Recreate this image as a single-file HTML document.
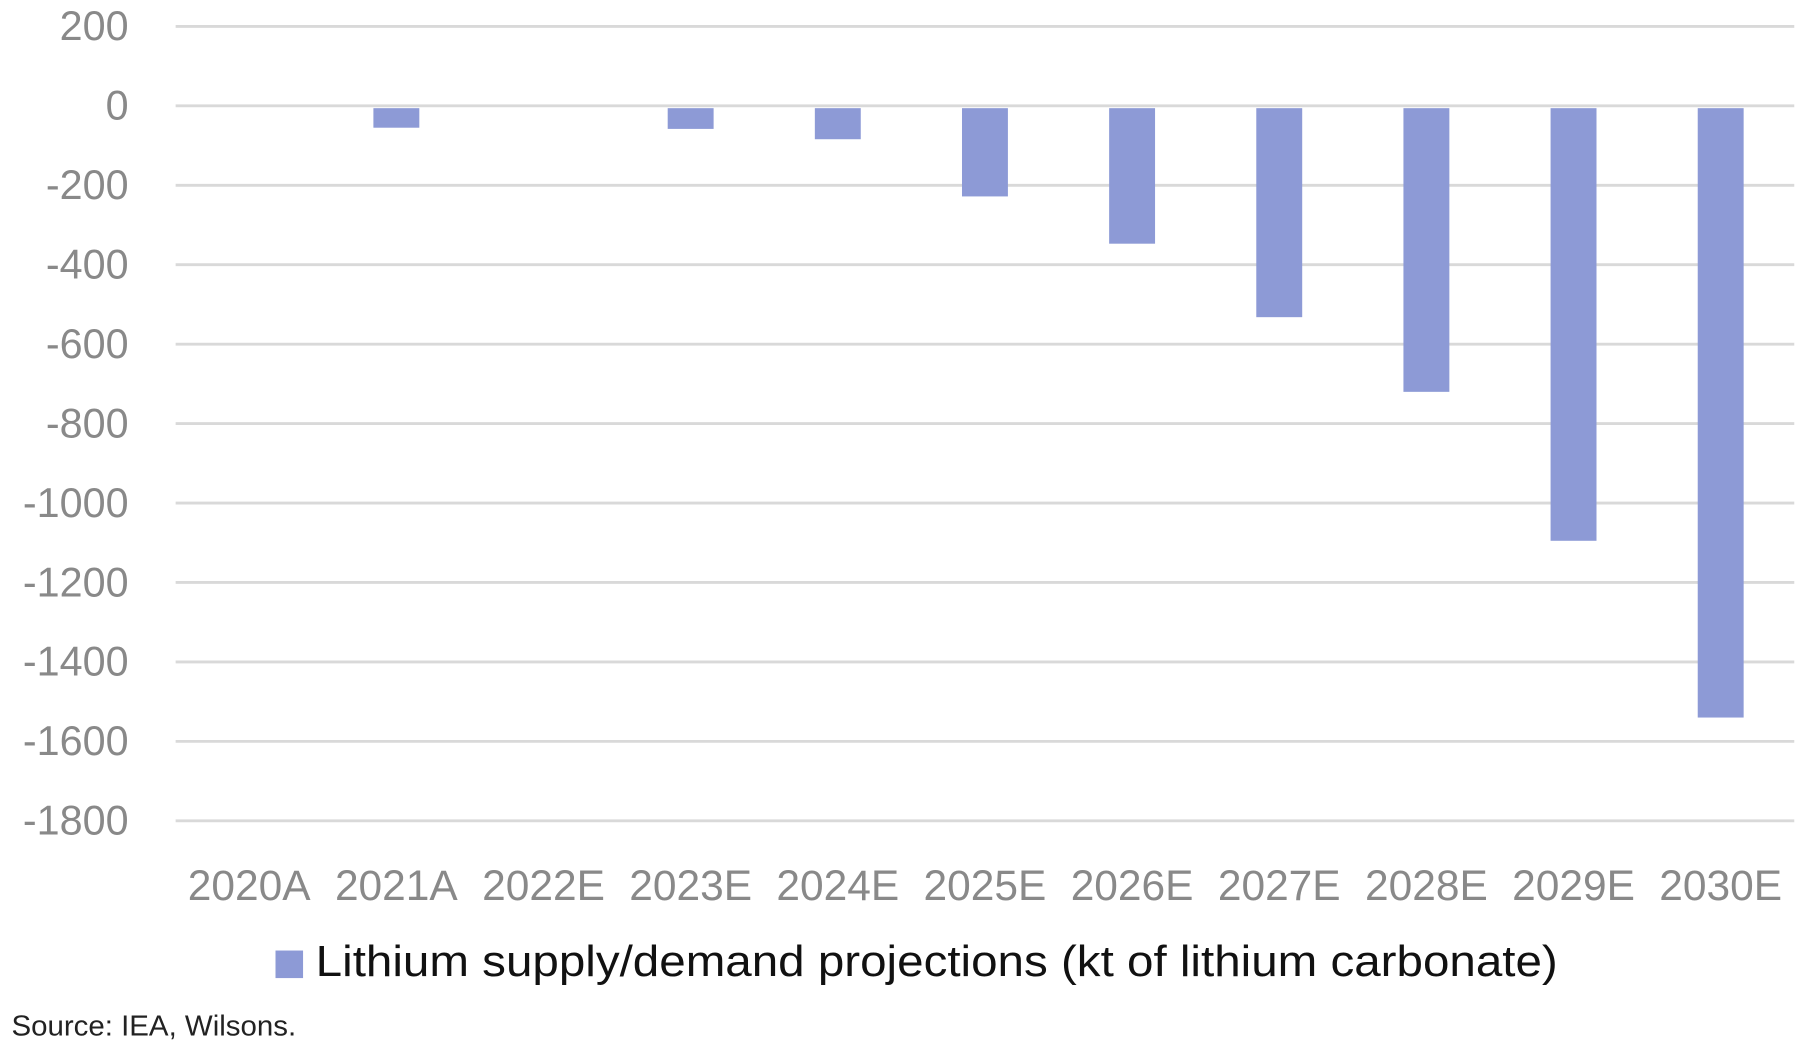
<!DOCTYPE html>
<html><head><meta charset="utf-8"><style>
html,body{margin:0;padding:0;background:#fff;}
svg{display:block;font-family:"Liberation Sans",sans-serif;}
</style></head><body>
<svg id="chart" width="1800" height="1051" viewBox="0 0 1568 915.5" xmlns="http://www.w3.org/2000/svg">
<g id="grid"></g>
<g id="ylabels"></g>
<g id="bars"></g>
<g id="xlabels"></g>
<g>
<rect x="240" y="828" width="24" height="24" fill="#8d9ad6"/>
<text x="275" y="850" font-size="38" fill="#111" textLength="1082" lengthAdjust="spacingAndGlyphs">Lithium supply/demand projections (kt of lithium carbonate)</text>
</g>
<text x="10" y="902" font-size="25" fill="#222" textLength="248" lengthAdjust="spacingAndGlyphs">Source: IEA, Wilsons.</text>
</svg>
<script>
const categories = ["2020A","2021A","2022E","2023E","2024E","2025E","2026E","2027E","2028E","2029E","2030E"];
const values = [0,-55,0,-58,-84,-228,-347,-532,-720,-1095,-1540];
const yTicks = [200,0,-200,-400,-600,-800,-1000,-1200,-1400,-1600,-1800];
const yTickLabels = ["200","0","-200","-400","-600","-800","-1000","-1200","-1400","-1600","-1800"];

const NS="http://www.w3.org/2000/svg";
const plotL=153, plotR=1563, yTop=23, yBot=715, vMax=200, vMin=-1800;
function y(v){return yTop+(vMax-v)/(vMax-vMin)*(yBot-yTop);}
const band=(plotR-plotL)/categories.length;
function xc(i){return plotL+band*(i+0.5);}
function mk(tag,attrs,parent){const e=document.createElementNS(NS,tag);for(const k in attrs)e.setAttribute(k,attrs[k]);parent.appendChild(e);return e;}
const grid=document.getElementById('grid'),yl=document.getElementById('ylabels'),bars=document.getElementById('bars'),xl=document.getElementById('xlabels');
yTicks.forEach((t,i)=>{
  const l=mk('line',{x1:plotL,x2:plotR,y1:y(t),y2:y(t),stroke:'#d9d9d9','stroke-width':2.5},grid);
  
  
  const tx=mk('text',{x:112,y:y(t)+12,'font-size':36,'text-anchor':'end',fill:'#898989'},yl);
  tx.textContent=yTickLabels[i];
  
  
});
const bw=40;
values.forEach((v,i)=>{
  const y0=y(0)+2, y1=y(v);
  if(v<0){
    const r=mk('rect',{x:xc(i)-bw/2,y:y0,width:bw,height:Math.max(0,y1-y0),fill:'#8d9ad6'},bars);
    
    
  }
  const t=mk('text',{x:xc(i),y:784,'font-size':37,'text-anchor':'middle',fill:'#898989'},xl);
  t.textContent=categories[i];
  
  
});
</script>
</body></html>
